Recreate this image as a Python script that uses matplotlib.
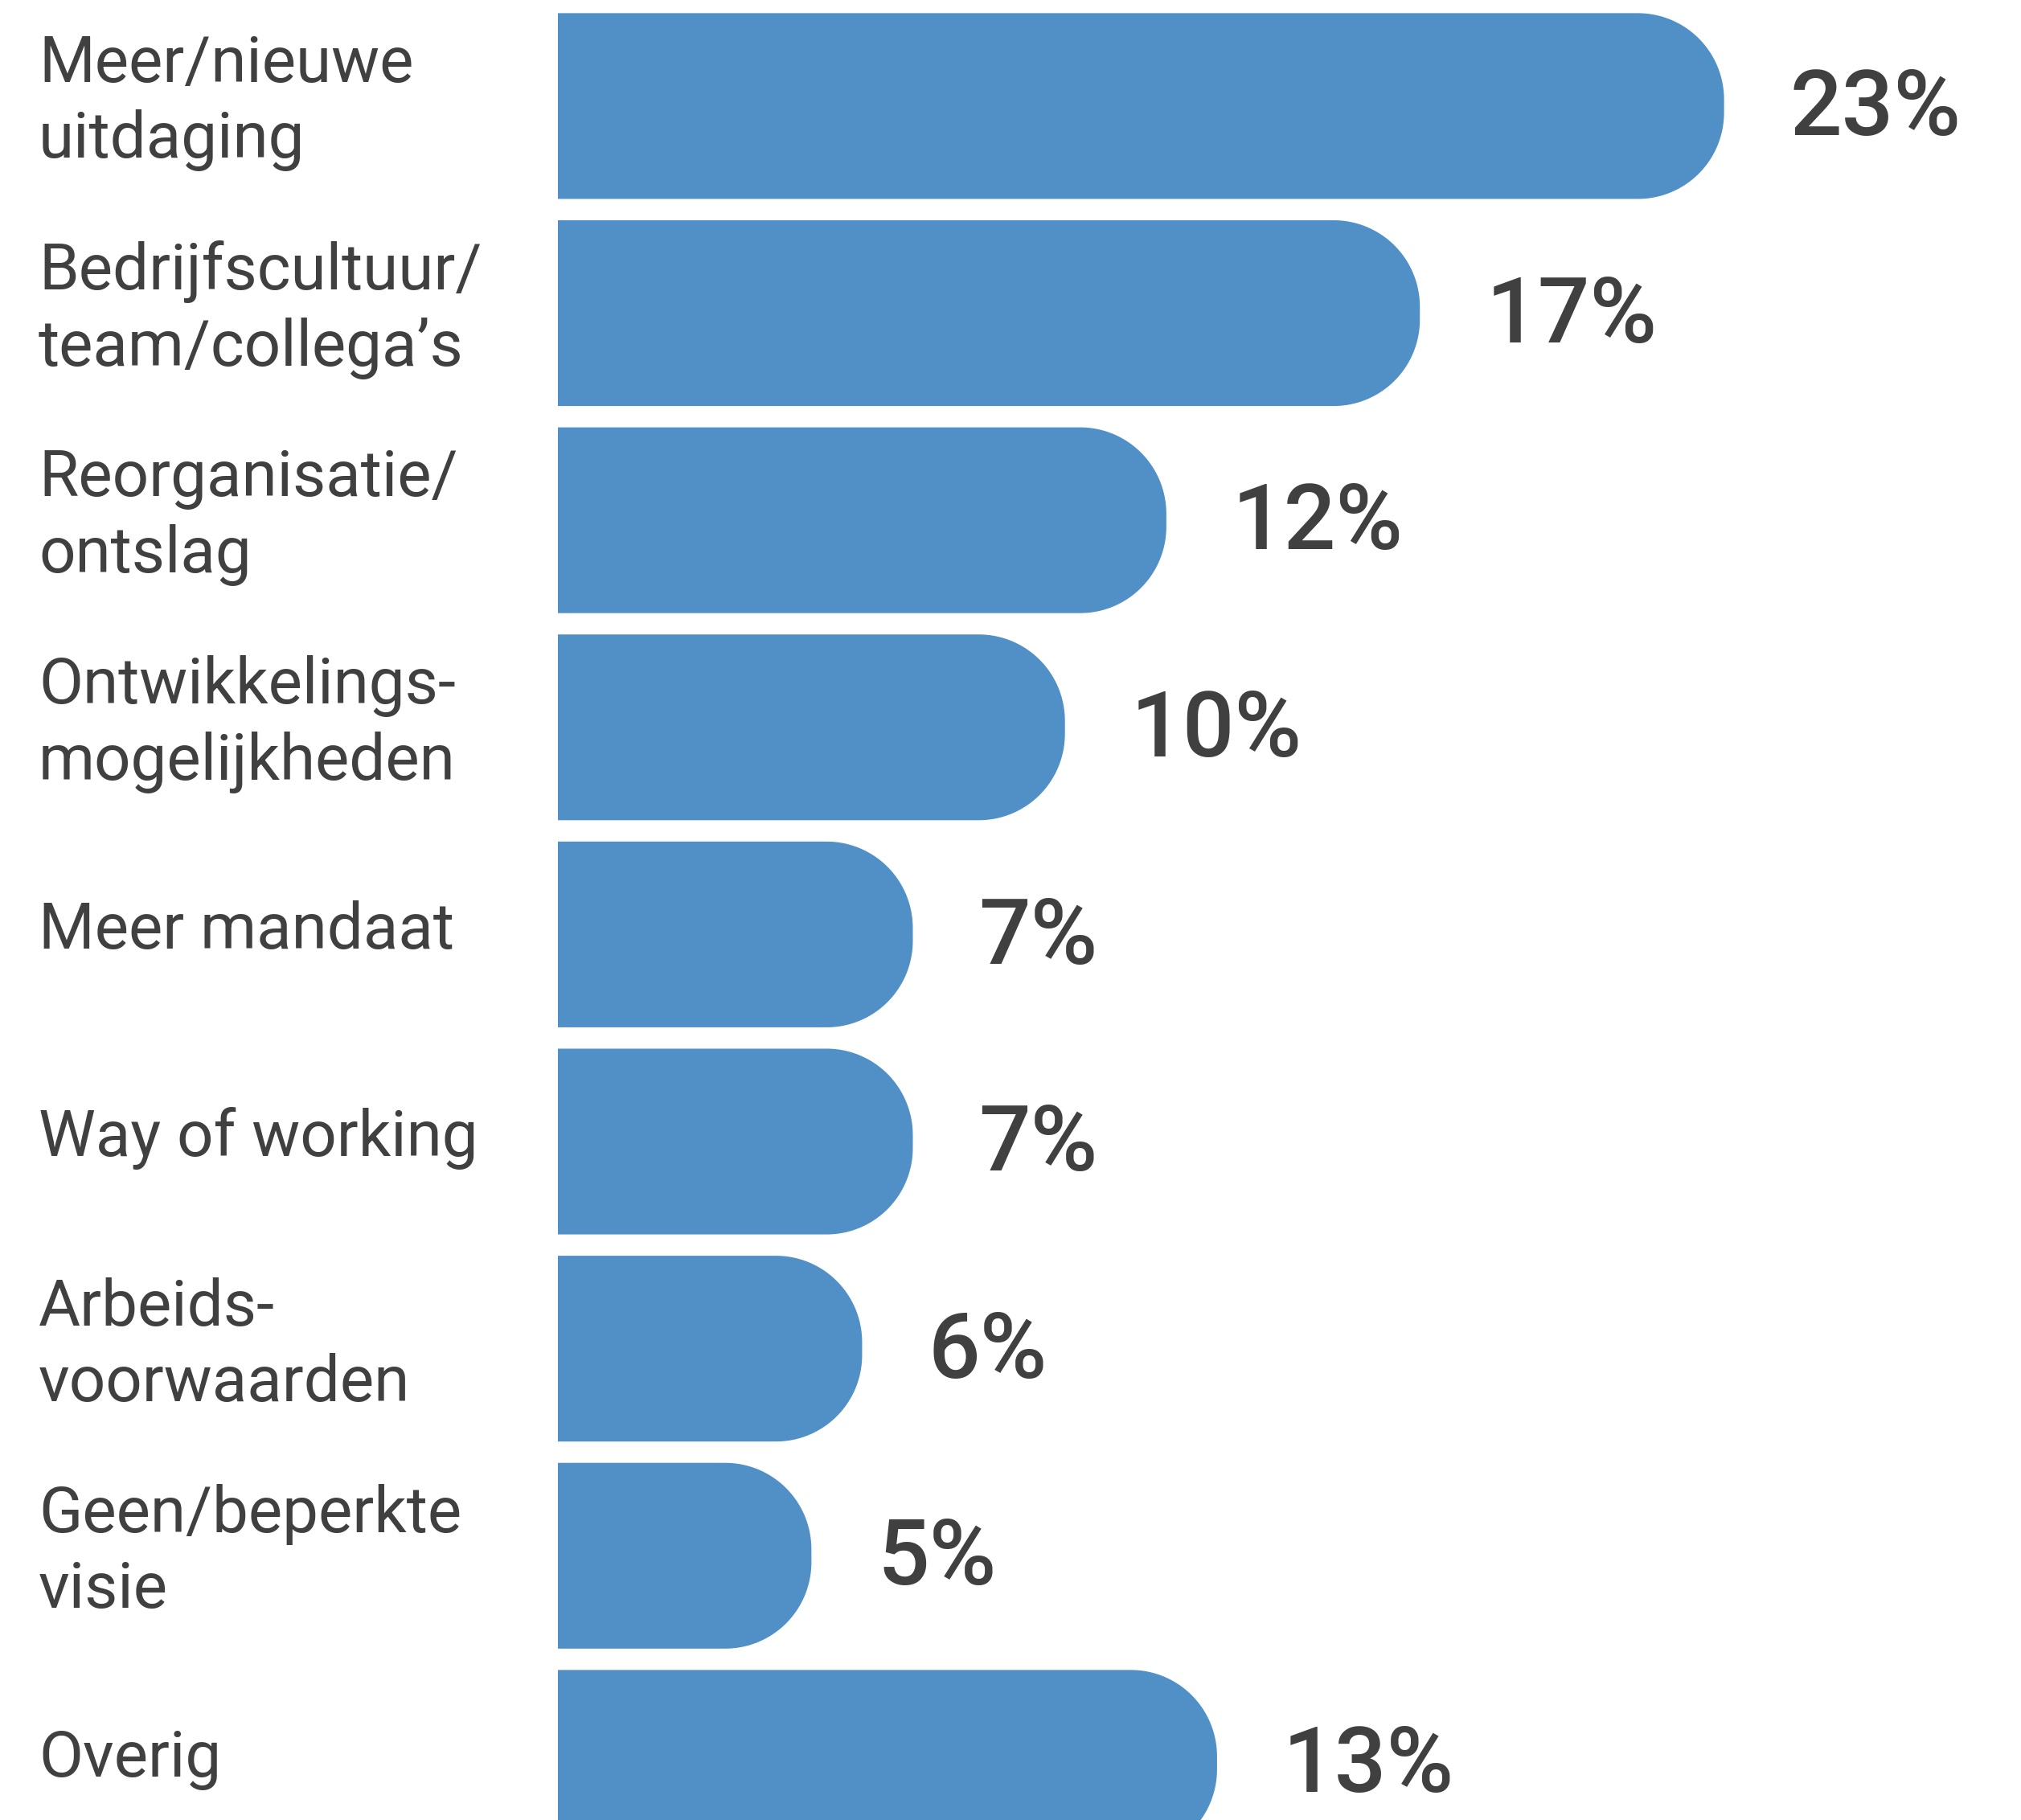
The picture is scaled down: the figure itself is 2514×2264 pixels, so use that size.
import numpy as np
import matplotlib
matplotlib.use("Agg")
import matplotlib.pyplot as plt
from matplotlib.patches import Polygon

plt.rcParams['font.family'] = ['Roboto', 'DejaVu Sans']

categories = ['Meer/nieuwe\nuitdaging', 'Bedrijfscultuur/\nteam/collega\u2019s',
              'Reorganisatie/\nontslag', 'Ontwikkelings-\nmogelijkheden',
              'Meer mandaat', 'Way of working', 'Arbeids-\nvoorwaarden',
              'Geen/beperkte\nvisie', 'Overig']
values = [23, 17, 12, 10, 7, 7, 6, 5, 13]

bar_color = '#5190c6'
text_color = '#404040'

fig = plt.figure(figsize=(25.14, 22.64), dpi=100)
ax = fig.add_axes([694 / 2514, 0, 1766 / 2514, 1])

ypos = np.arange(len(values))
bars = ax.barh(ypos, values, height=0.897, color=bar_color)

# replace the plain bars with ones that have a round right end
rx = 1.7
t = np.linspace(0, np.pi / 2, 40)
for b in bars:
    x0, y0 = b.get_x(), b.get_y()
    w, h = b.get_width(), b.get_height()
    ry = h / 2 * 0.93
    cx = x0 + w - rx
    top = np.column_stack([cx + rx * np.sin(t), y0 + ry - ry * np.cos(t)])
    bot = np.column_stack([cx + rx * np.cos(t), y0 + h - ry + ry * np.sin(t)])
    pts = np.vstack([[[x0, y0]], top, bot, [[x0, y0 + h]]])
    ax.add_patch(Polygon(pts, closed=True, facecolor=bar_color, edgecolor='none'))
    b.remove()

for yy, v in zip(ypos, values):
    ax.text(v + 1.3, yy + 0.02, f'{v}%', ha='left', va='center', fontsize=82,
            fontweight='medium', color=text_color)

ax.set_xlim(0, 28)
ax.set_ylim(8.276, -0.512)
ax.axis('off')

# category labels on the left, lined up with the bars
for yy, cat in zip(ypos, categories):
    ypix = ax.transData.transform((0, yy))[1]
    fig.text(48 / 2514, (ypix + 4) / 2264, cat, ha='left', va='center',
             fontsize=57.5, color=text_color, linespacing=1.3)

fig.savefig('out.png', dpi=100, facecolor='white')
